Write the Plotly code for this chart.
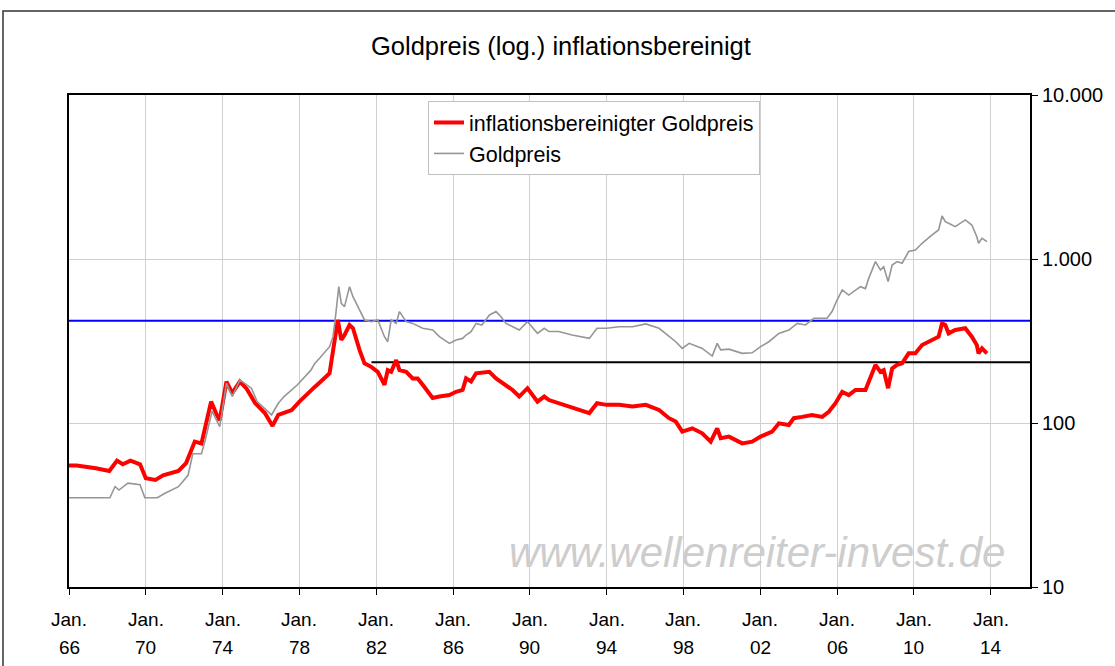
import plotly.graph_objects as go

# ---------------- data ----------------
years_real = [1966.0, 1966.4, 1967.4, 1968.1, 1968.5, 1968.8, 1969.2, 1969.7, 1970.0, 1970.5,
              1970.9, 1971.7, 1972.1, 1972.55, 1972.9, 1973.4, 1973.7, 1973.85, 1974.2, 1974.5,
              1974.9, 1975.25, 1975.7, 1976.2, 1976.6, 1976.9, 1977.6, 1978.0, 1978.8, 1979.05,
              1979.2, 1979.57, 1979.75, 1980.0, 1980.18, 1980.35, 1980.61, 1980.79, 1981.13, 1981.39,
              1981.74, 1982.08, 1982.43, 1982.6, 1982.78, 1983.04, 1983.21, 1983.56, 1983.9, 1984.16,
              1984.42, 1984.94, 1985.29, 1985.81, 1986.16, 1986.5, 1986.68, 1986.94, 1987.2, 1987.89,
              1988.24, 1988.76, 1989.1, 1989.45, 1989.88, 1990.4, 1990.75, 1991.0, 1991.5, 1992.2,
              1993.1, 1993.5, 1994.0, 1994.65, 1995.35, 1996.04, 1996.73, 1997.25, 1997.6, 1997.94,
              1998.46, 1998.98, 1999.42, 1999.76, 1999.94, 2000.37, 2001.06, 2001.58, 2002.02, 2002.62,
              2002.97, 2003.49, 2003.75, 2004.18, 2004.7, 2005.23, 2005.57, 2005.92, 2006.27, 2006.61,
              2006.96, 2007.48, 2007.74, 2008.0, 2008.26, 2008.43, 2008.66, 2008.87, 2009.13, 2009.39,
              2009.73, 2010.08, 2010.43, 2010.95, 2011.29, 2011.47, 2011.64, 2011.81, 2012.16, 2012.68,
              2013.02, 2013.28, 2013.37, 2013.55, 2013.81]
real_price = [55, 55, 53, 51, 59, 56, 59, 56, 46, 45,
              48, 51, 57, 77, 75, 135, 112, 104, 179, 152,
              179, 162, 132, 115, 96, 112, 120, 135, 166, 175,
              183, 201, 266, 425, 321, 344, 396, 378, 279, 231,
              220, 205, 171, 210, 205, 242, 210, 205, 187, 187,
              171, 142, 145, 148, 155, 159, 187, 179, 201, 205,
              187, 171, 159, 145, 163, 135, 145, 138, 132, 123,
              115, 132, 129, 129, 126, 129, 120, 107, 102, 88.5,
              92.8, 86.5, 76.9, 92.8, 80.7, 82.6, 75.1, 76.9, 82.6, 88.5,
              99.5, 97.2, 107, 109, 112, 109, 117, 132, 155, 148,
              159, 159, 191, 226, 205, 210, 163, 215, 226, 231,
              266, 266, 299, 321, 336, 405, 396, 352, 369, 378,
              336, 299, 266, 285, 266]

years_nominal = [1966.0, 1968.13, 1968.4, 1968.6, 1969.07, 1969.7, 1969.95, 1970.6, 1971.0, 1971.7,
                 1972.2, 1972.45, 1972.9, 1973.1, 1973.45, 1973.85, 1974.2, 1974.5, 1974.9, 1975.5,
                 1975.8, 1976.55, 1976.9, 1977.2, 1977.9, 1978.6, 1978.8, 1979.05, 1979.57, 1979.75,
                 1979.9, 1980.05, 1980.18, 1980.35, 1980.61, 1980.79, 1981.13, 1981.39, 1981.74, 1982.08,
                 1982.43, 1982.6, 1982.78, 1983.04, 1983.21, 1983.56, 1983.9, 1984.42, 1984.94, 1985.29,
                 1985.81, 1986.16, 1986.5, 1986.68, 1986.94, 1987.2, 1987.5, 1987.9, 1988.24, 1988.5,
                 1988.76, 1989.45, 1989.88, 1990.4, 1990.75, 1991.0, 1991.5, 1992.2, 1993.1, 1993.5,
                 1994.0, 1994.65, 1995.35, 1996.04, 1996.73, 1997.25, 1997.6, 1997.94, 1998.3, 1998.98,
                 1999.5, 1999.76, 1999.94, 2000.37, 2001.06, 2001.58, 2002.02, 2002.45, 2002.97, 2003.49,
                 2003.93, 2004.36, 2004.79, 2005.48, 2005.74, 2006.0, 2006.27, 2006.61, 2006.96, 2007.22,
                 2007.48, 2007.65, 2008.0, 2008.26, 2008.43, 2008.66, 2008.87, 2009.13, 2009.39, 2009.73,
                 2010.08, 2010.43, 2010.95, 2011.29, 2011.47, 2011.64, 2011.81, 2012.16, 2012.68, 2013.02,
                 2013.28, 2013.37, 2013.55, 2013.81]
nominal_price = [35, 35, 41, 39, 43, 42, 35, 35, 37.3, 40.9,
                 48, 65, 65, 79, 118, 95, 175, 145, 183, 163,
                 135, 112, 132, 145, 171, 210, 231, 248, 292, 336,
                 467, 678, 537, 512, 678, 589, 489, 425, 415, 425,
                 336, 313, 425, 405, 478, 415, 405, 378, 369, 336,
                 306, 321, 328, 344, 361, 405, 396, 456, 478, 445,
                 405, 369, 415, 352, 378, 361, 361, 344, 328, 378,
                 378, 386, 386, 402, 378, 336, 313, 285, 306, 285,
                 256, 306, 279, 282, 266, 268, 292, 313, 352, 369,
                 405, 396, 435, 435, 478, 562, 648, 603, 648, 678,
                 660, 762, 964, 857, 898, 728, 919, 964, 942, 1110,
                 1135, 1247, 1401, 1503, 1829, 1690, 1650, 1574, 1730, 1611,
                 1368, 1247, 1337, 1276]

tick_years = [1966, 1970, 1974, 1978, 1982, 1986, 1990, 1994, 1998, 2002, 2006, 2010, 2014]
tick_month = "Jan."
tick_labels = ["66", "70", "74", "78", "82", "86", "90", "94", "98", "02", "06", "10", "14"]
y_tick_values = [10, 100, 1000, 10000]
y_tick_labels = ["10", "100", "1.000", "10.000"]

upper_level = 420      # blue horizontal line
lower_level = 235      # black horizontal line
lower_start = 1981.75
x_range = [1966, 2016.05]

series_names = ["inflationsbereinigter Goldpreis", "Goldpreis"]
title_text = "Goldpreis (log.) inflationsbereinigt"
watermark = "www.wellenreiter-invest.de"

FONT = "Liberation Sans, Arial, sans-serif"

# ---------------- figure ----------------
fig = go.Figure()

fig.add_trace(go.Scatter(x=x_range, y=[upper_level, upper_level], mode="lines",
                         line=dict(color="#0000ff", width=2), showlegend=False, hoverinfo="skip"))
fig.add_trace(go.Scatter(x=[lower_start, x_range[1]], y=[lower_level, lower_level], mode="lines",
                         line=dict(color="#000000", width=2), showlegend=False, hoverinfo="skip"))

fig.add_trace(go.Scatter(x=years_real, y=real_price, mode="lines", name=series_names[0],
                         line=dict(color="#ff0000", width=4), legendgroup="a"))
fig.add_trace(go.Scatter(x=years_nominal, y=nominal_price, mode="lines", name=series_names[1],
                         line=dict(color="#969696", width=1.6), legendgroup="b"))

annotations = []
for yr, lab in zip(tick_years, tick_labels):
    annotations.append(dict(x=yr, y=(587 - 619) / 492, xref="x", yref="paper", text=tick_month,
                            showarrow=False, font=dict(family=FONT, size=19, color="black"),
                            xanchor="center", yanchor="middle"))
    annotations.append(dict(x=yr, y=(587 - 647) / 492, xref="x", yref="paper", text=lab,
                            showarrow=False, font=dict(family=FONT, size=19, color="black"),
                            xanchor="center", yanchor="middle"))

annotations.append(dict(x=(561 - 69) / 961, y=(587 - 46) / 492, xref="paper", yref="paper",
                        text=title_text, showarrow=False,
                        font=dict(family=FONT, size=25.5, color="black"),
                        xanchor="center", yanchor="middle"))
annotations.append(dict(x=(757 - 69) / 961, y=(587 - 552) / 492, xref="paper", yref="paper",
                        text="<i>" + watermark + "</i>", showarrow=False,
                        font=dict(family=FONT, size=42, color="#cdcdcd"),
                        xanchor="center", yanchor="middle"))

fig.update_layout(
    width=1115, height=666,
    margin=dict(l=69, r=85, t=95, b=79),
    paper_bgcolor="white", plot_bgcolor="white",
    font=dict(family=FONT, size=19, color="black"),
    showlegend=True,
    legend=dict(x=(428 - 69) / 961, y=(587 - 101) / 492, xanchor="left", yanchor="top",
                bgcolor="white", bordercolor="#c0c0c0", borderwidth=1,
                font=dict(family=FONT, size=21.5, color="black"),
                tracegroupgap=9, traceorder="normal"),
    annotations=annotations,
    shapes=[dict(type="rect", xref="paper", yref="paper",
                 x0=(3 - 69) / 961, x1=1.3,
                 y0=-0.3, y1=(587 - 11) / 492,
                 line=dict(color="#333333", width=1.5), fillcolor="rgba(0,0,0,0)", layer="below")],
)

fig.update_xaxes(range=x_range, tickmode="array", tickvals=tick_years, ticktext=[""] * len(tick_years),
                 showgrid=True, gridcolor="#d0d0d0", gridwidth=1,
                 ticks="outside", ticklen=6, tickcolor="black", tickwidth=1,
                 showline=True, linecolor="black", linewidth=2, mirror=True, zeroline=False)
fig.update_yaxes(type="log", range=[1, 4], side="right", tickmode="array",
                 tickvals=y_tick_values, ticktext=y_tick_labels,
                 showgrid=True, gridcolor="#d0d0d0", gridwidth=1,
                 ticks="outside", ticklen=6, tickcolor="black", tickwidth=1,
                 tickfont=dict(family=FONT, size=20, color="black"),
                 showline=True, linecolor="black", linewidth=2, mirror=True, zeroline=False)

fig.write_html("out.html", config={"displayModeBar": False},
               post_script="document.body.style.margin='0';")
